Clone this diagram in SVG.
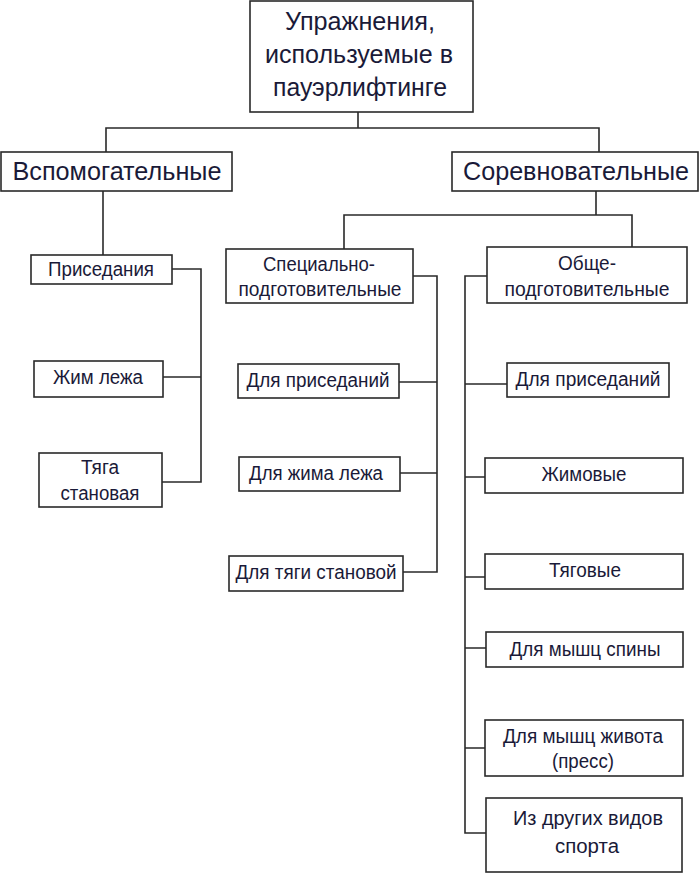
<svg xmlns="http://www.w3.org/2000/svg" width="700" height="874" viewBox="0 0 700 874">
<style>
.box{fill:#ffffff;stroke:#2a2a2a;stroke-width:1.6}
.ln{fill:none;stroke:#2a2a2a;stroke-width:1.6}
text{font-family:"Liberation Sans",Arial,sans-serif;fill:#1a1a38;text-anchor:middle}
.big{font-size:26px}
.sm{font-size:20px}
</style>
<rect width="700" height="874" fill="#ffffff"/>
<g id="connectors">
<path class="ln" d="M358,112 V128 M106,152 V128 H599 V152"/>
<path class="ln" d="M103,191 V255"/>
<path class="ln" d="M172,269 H201 V482 H162 M163,377 H201"/>
<path class="ln" d="M596,191 V215 M344,249 V215 H632 V247"/>
<path class="ln" d="M413,276 H437 V572 H403 M399,382 H437 M400,473 H437"/>
<path class="ln" d="M487,276 H465 V833 H486 M465,384 H507 M465,477 H485 M465,577 H485 M465,648 H486 M465,748 H485"/>
</g>
<g id="title">
<rect class="box" x="250" y="1" width="223" height="111"/>
<text class="big" x="360" y="30" textLength="150" lengthAdjust="spacingAndGlyphs">Упражнения,</text>
<text class="big" x="359" y="63" textLength="188" lengthAdjust="spacingAndGlyphs">используемые в</text>
<text class="big" x="360" y="96" textLength="174" lengthAdjust="spacingAndGlyphs">пауэрлифтинге</text>
</g>
<g id="vspom">
<rect class="box" x="1" y="152" width="231" height="39"/>
<text class="big" x="117" y="180" textLength="209" lengthAdjust="spacingAndGlyphs">Вспомогательные</text>
</g>
<g id="sorev">
<rect class="box" x="452" y="152" width="246" height="39"/>
<text class="big" x="576" y="180" textLength="226" lengthAdjust="spacingAndGlyphs">Соревновательные</text>
</g>
<g id="prised">
<rect class="box" x="31" y="255" width="141" height="29"/>
<text class="sm" x="101" y="276" textLength="106" lengthAdjust="spacingAndGlyphs">Приседания</text>
</g>
<g id="zhim">
<rect class="box" x="34" y="361" width="129" height="36"/>
<text class="sm" x="98" y="384" textLength="90" lengthAdjust="spacingAndGlyphs">Жим лежа</text>
</g>
<g id="tyaga">
<rect class="box" x="39" y="453" width="123" height="54"/>
<text class="sm" x="100" y="474" textLength="38" lengthAdjust="spacingAndGlyphs">Тяга</text>
<text class="sm" x="100" y="500" textLength="79" lengthAdjust="spacingAndGlyphs">становая</text>
</g>
<g id="spec">
<rect class="box" x="226" y="249" width="187" height="54"/>
<text class="sm" x="319" y="271" textLength="112" lengthAdjust="spacingAndGlyphs">Специально-</text>
<text class="sm" x="320" y="296" textLength="163" lengthAdjust="spacingAndGlyphs">подготовительные</text>
</g>
<g id="spec-prised">
<rect class="box" x="238" y="364" width="161" height="34"/>
<text class="sm" x="318" y="387" textLength="143" lengthAdjust="spacingAndGlyphs">Для приседаний</text>
</g>
<g id="spec-zhim">
<rect class="box" x="239" y="457" width="161" height="34"/>
<text class="sm" x="316" y="480" textLength="134" lengthAdjust="spacingAndGlyphs">Для жима лежа</text>
</g>
<g id="spec-tyaga">
<rect class="box" x="229" y="556" width="174" height="35"/>
<text class="sm" x="316" y="579" textLength="161" lengthAdjust="spacingAndGlyphs">Для тяги становой</text>
</g>
<g id="obsh">
<rect class="box" x="487" y="247" width="200" height="56"/>
<text class="sm" x="587" y="270" textLength="58" lengthAdjust="spacingAndGlyphs">Обще-</text>
<text class="sm" x="587" y="296" textLength="165" lengthAdjust="spacingAndGlyphs">подготовительные</text>
</g>
<g id="obsh-prised">
<rect class="box" x="507" y="363" width="162" height="34"/>
<text class="sm" x="588" y="386" textLength="145" lengthAdjust="spacingAndGlyphs">Для приседаний</text>
</g>
<g id="zhimovye">
<rect class="box" x="485" y="458" width="198" height="35"/>
<text class="sm" x="584" y="481" textLength="85" lengthAdjust="spacingAndGlyphs">Жимовые</text>
</g>
<g id="tyagovye">
<rect class="box" x="485" y="554" width="198" height="35"/>
<text class="sm" x="585" y="577" textLength="72" lengthAdjust="spacingAndGlyphs">Тяговые</text>
</g>
<g id="spina">
<rect class="box" x="486" y="632" width="197" height="35"/>
<text class="sm" x="585" y="656" textLength="151" lengthAdjust="spacingAndGlyphs">Для мышц спины</text>
</g>
<g id="zhivot">
<rect class="box" x="485" y="720" width="198" height="56"/>
<text class="sm" x="583" y="743" textLength="160" lengthAdjust="spacingAndGlyphs">Для мышц живота</text>
<text class="sm" x="583" y="768" textLength="62" lengthAdjust="spacingAndGlyphs">(пресс)</text>
</g>
<g id="drugie">
<rect class="box" x="486" y="798" width="196" height="74"/>
<text class="sm" x="588" y="825" textLength="150" lengthAdjust="spacingAndGlyphs">Из других видов</text>
<text class="sm" x="587" y="853" textLength="64" lengthAdjust="spacingAndGlyphs">спорта</text>
</g>
</svg>
